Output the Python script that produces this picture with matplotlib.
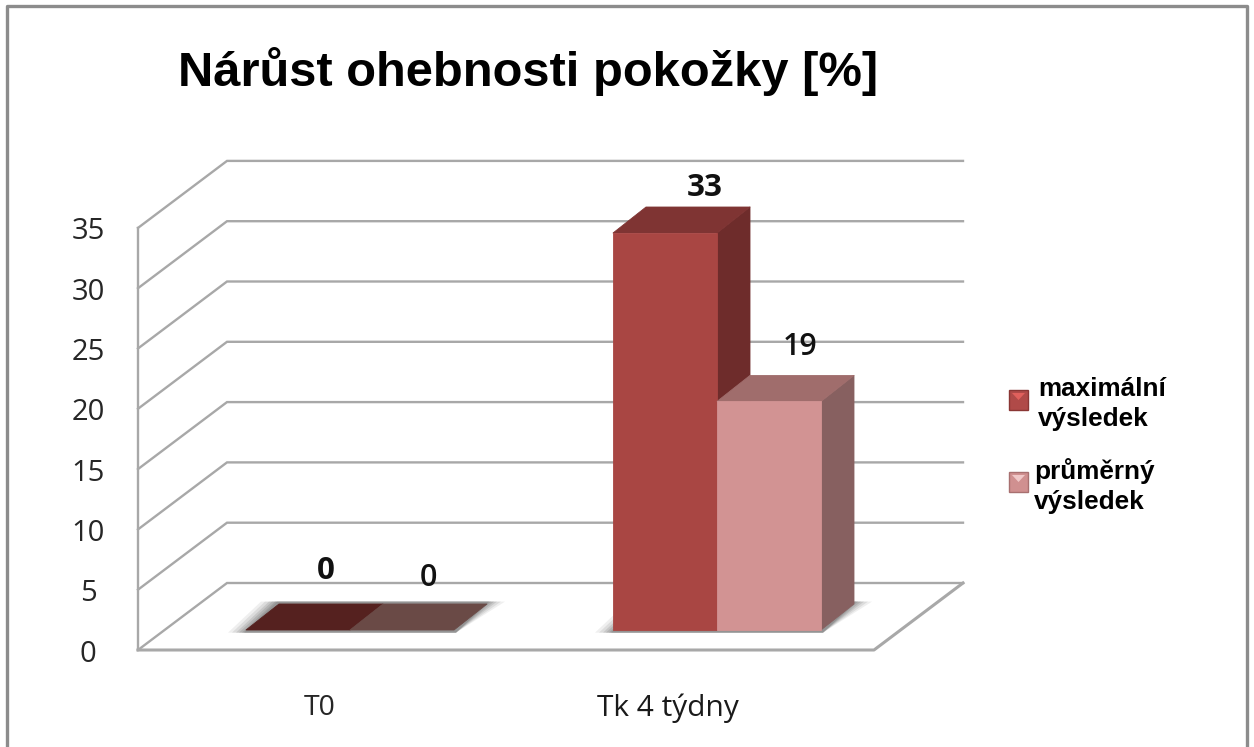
import matplotlib
matplotlib.use("Agg")
import matplotlib.pyplot as plt
from matplotlib.patches import Polygon, Rectangle

title = "Nárůst ohebnosti pokožky [%]"
categories = ["T0", "Tk 4 týdny"]
series_names = ["maximální\nvýsledek", "průměrný\nvýsledek"]
maximal = [0, 33]
average = [0, 19]
y_ticks = [0, 5, 10, 15, 20, 25, 30, 35]

W, H = 1254, 747
PX_PER_UNIT = 12.06
Y0_PX = 650
fig = plt.figure(figsize=(W / 100, H / 100), dpi=100)
ax = fig.add_axes([0, 0, 1, 1])
ax.set_xlim(0, W)
ax.set_ylim((Y0_PX - H) / PX_PER_UNIT, Y0_PX / PX_PER_UNIT)
ax.axis("off")

def v(y_px):
    return (Y0_PX - y_px) / PX_PER_UNIT

GRID = "#a8a8a8"
DX, DY = 89, 67 / PX_PER_UNIT
LEFT, RIGHT = 138, 874

# frame
ax.plot([7, 7, 1247, 1247], [v(747), v(6), v(6), v(747)], color="#8c8c8c", lw=2.4, zorder=1)

# walls and floor
for t in y_ticks:
    ax.plot([LEFT, LEFT + DX, RIGHT + DX], [t, t + DY, t + DY], color=GRID, lw=1.7, zorder=1,
            solid_joinstyle="miter")
    ax.text(88, t + v(654), str(t), ha="center", va="center", fontsize=21, color="#262626",
            family="Open Sans")
ax.plot([LEFT, LEFT], [0, y_ticks[-1]], color=GRID, lw=1.7, zorder=1)
ax.plot([LEFT, RIGHT, RIGHT + DX], [0, 0, DY], color=GRID, lw=2.2, zorder=1)

# bars
BASE = v(630)
BAR_W = 104
BDX, BDY = 33, 26 / PX_PER_UNIT
CENTERS = [350, 717]
FRONT = ["#a94643", "#d29393"]
SIDE = ["#6e2c2b", "#876060"]
TOP = ["#7f3433", "#a06d6c"]
FLAT = ["#55211f", "#6a4a46"]

def face(points, colour, z):
    ax.add_patch(Polygon(points, fc=colour, ec=colour, lw=0.6, joinstyle="round", zorder=z))

def bar(x, value, i, z):
    h = BASE + value * 12.03 / PX_PER_UNIT
    if value == 0:
        face([(x, BASE), (x + BAR_W, BASE), (x + BAR_W + BDX, BASE + BDY), (x + BDX, BASE + BDY)], FLAT[i], z)
        return
    face([(x + BAR_W, BASE), (x + BAR_W + BDX, BASE + BDY), (x + BAR_W + BDX, h + BDY), (x + BAR_W, h)], SIDE[i], z)
    face([(x, h), (x + BAR_W, h), (x + BAR_W + BDX, h + BDY), (x + BDX, h + BDY)], TOP[i], z)
    face([(x, BASE), (x + BAR_W, BASE), (x + BAR_W, h), (x, h)], FRONT[i], z)

def shadow(x0, x1):
    for k, a in zip([18, 14, 10, 7, 4, 2], [0.12, 0.17, 0.22, 0.27, 0.33, 0.38]):
        ax.add_patch(Polygon([(x0 - k, BASE - 0.22), (x1 + 2, BASE - 0.22),
                              (x1 + BDX + k, BASE + BDY + 0.2), (x0 + BDX - k, BASE + BDY + 0.2)],
                             fc="#7f7f7f", ec="none", alpha=a, zorder=2))

for c, a, b in zip(CENTERS, maximal, average):
    x1 = c - BAR_W
    shadow(x1, c + BAR_W)
    bar(x1, a, 0, 3)
    bar(c, b, 1, 4)

# value labels
lab_x = [(326, 428), (705, 800)]
lab_y = [(571, 578), (188, 347)]
for (xa, xb), (ya, yb), a, b in zip(lab_x, lab_y, maximal, average):
    ax.text(xa, v(ya), str(a), ha="center", va="center", fontsize=22.5, fontweight="bold", family="Open Sans", color="#111111", zorder=5)
    ax.text(xb, v(yb), str(b), ha="center", va="center", fontsize=22, fontweight="semibold", family="Open Sans", color="#111111", zorder=5)

# category labels
ax.text(320, v(708), categories[0], ha="center", va="center", fontsize=20.5, family="Open Sans", color="#262626")
ax.text(668, v(708), categories[1], ha="center", va="center", fontsize=21.5, family="Open Sans", color="#1a1a1a")

# title
ax.text(528, v(71), title, ha="center", va="center", fontsize=35.2, fontweight="bold",
        family="Liberation Sans", color="black")

# legend
for y0, fc, lt, dk in [(390, "#b04a48", "#e0605c", "#8a3634"), (472, "#d09090", "#f0c8c8", "#a87070")]:
    ax.add_patch(Rectangle((1009, v(y0 + 20)), 19, 20 / PX_PER_UNIT, fc=fc, ec=dk, lw=1, zorder=5))
    ax.add_patch(Polygon([(1012, v(y0 + 3)), (1025, v(y0 + 3)), (1018.5, v(y0 + 10))], fc=lt, ec="none", zorder=6))
for (x, y), s in zip([(1038, 404), (1034, 486)], series_names):
    ax.text(x, v(y), s, ha="left", va="center", fontsize=18.8, fontweight="bold",
            family="Liberation Sans", color="black", linespacing=1.35)

fig.savefig("out.png", dpi=100)
